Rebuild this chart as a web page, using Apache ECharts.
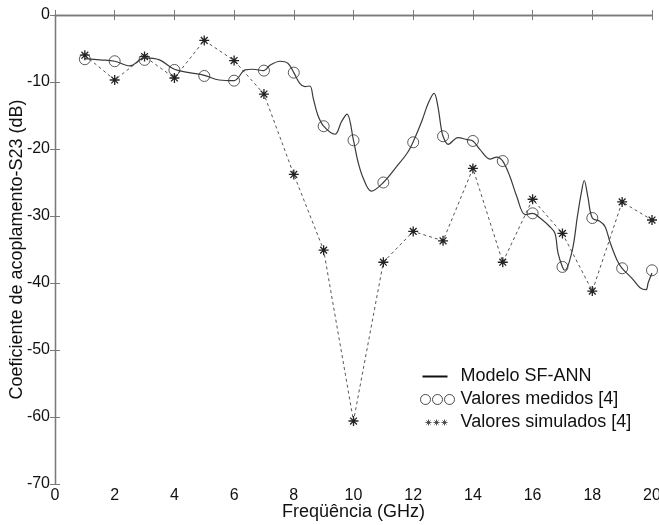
<!DOCTYPE html>
<html>
<head>
<meta charset="utf-8">
<script src="https://cdn.jsdelivr.net/npm/echarts@6/dist/echarts.min.js"></script>
<style>
  html, body { margin: 0; padding: 0; background: #fff; }
  #chart { width: 659px; height: 525px; }
</style>
</head>
<body>
<div id="chart"></div>
<script>
// measured / simulated points (GHz, dB)
const freqs = [1, 2, 3, 4, 5, 6, 7, 8, 9, 10, 11, 12, 13, 14, 15, 16, 17, 18, 19, 20];
const measured = [-6.6, -6.9, -6.7, -8.2, -9.1, -9.8, -8.3, -8.6, -16.6, -18.7,
  -25.0, -19.0, -18.1, -18.8, -21.8, -29.6, -37.6, -30.3, -37.8, -38.1];
const simulated = [-6.0, -9.7, -6.2, -9.4, -3.8, -6.8, -11.8, -23.8, -35.1, -60.6,
  -36.9, -32.3, -33.7, -22.9, -36.9, -27.5, -32.6, -41.2, -27.9, -30.6];

// SF-ANN model curve
const modelFreq = [1, 1.5, 2, 2.5, 3, 3.5, 4, 4.5, 5, 5.5, 6, 6.37, 6.63, 7, 7.2, 7.54, 7.8,
  8, 8.2, 8.37, 8.54, 8.65, 8.8, 9, 9.38, 9.6, 9.78, 10, 10.15, 10.33, 10.6, 11, 11.45,
  11.8, 12, 12.3, 12.5, 12.7, 12.83, 12.93, 13, 13.17, 13.5, 13.8, 14, 14.24, 14.57,
  14.8, 15, 15.24, 15.47, 15.75, 16, 16.25, 16.58, 16.75, 16.85, 17, 17.08, 17.33,
  17.5, 17.63, 17.73, 17.85, 18, 18.25, 18.43, 18.6, 18.83, 19, 19.33, 19.6, 19.8,
  19.87, 20];
const modelVal = [-6.5, -6.7, -6.9, -7.6, -6.4, -6.7, -8.1, -8.6, -9.0, -9.7, -9.8, -8.2,
  -8.1, -8.3, -7.5, -6.9, -7.2, -8.6, -10.2, -10.7, -10.6, -12.4, -14.9, -16.6, -17.8,
  -15.9, -14.8, -18.7, -21.9, -24.4, -26.3, -25.0, -22.6, -20.6, -18.9, -15.7, -13.2,
  -11.7, -13.7, -16.7, -18.1, -19.3, -18.3, -18.6, -18.8, -20.1, -21.5, -21.2, -21.8,
  -24.1, -27.1, -29.8, -29.6, -30.3, -31.6, -32.6, -35.5, -37.6, -38.1, -35.1, -30.1,
  -26.6, -24.7, -27.1, -30.3, -30.8, -31.6, -34.0, -36.6, -37.8, -39.3, -40.7, -41.0,
  -40.0, -38.5];

const seriesNames = ["Modelo SF-ANN", "Valores medidos [4]", "Valores simulados [4]"];

const star = "path://M5 0 L5 10 M0 5 L10 5 M1.6 1.6 L8.4 8.4 M1.6 8.4 L8.4 1.6";
const iconLine = "path://M0 0 M36 12 M3 6 L28 6";
const iconCircles = "path://M0 0 M36 12 M1 6 a5 5 0 1 0 10 0 a5 5 0 1 0 -10 0 Z " +
  "M13 6 a5 5 0 1 0 10 0 a5 5 0 1 0 -10 0 Z M25 6 a5 5 0 1 0 10 0 a5 5 0 1 0 -10 0 Z";
const iconStars = "path://M0 0 M36 12 " +
  "M9 3 L9 9 M6 6 L12 6 M7 4 L11 8 M7 8 L11 4 " +
  "M17 3 L17 9 M14 6 L20 6 M15 4 L19 8 M15 8 L19 4 " +
  "M25 3 L25 9 M22 6 L28 6 M23 4 L27 8 M23 8 L27 4";

const zip = (xs, ys) => xs.map((x, i) => [x, ys[i]]);

const font = "Liberation Sans, Arial, sans-serif";
const axisColor = "#7a7a7a";

var chartDom = document.getElementById("chart");
var myChart = echarts.init(chartDom);
var option;

const frameAxis = {
  min: 0,
  axisLine: { show: true, lineStyle: { color: axisColor, width: 1.3 } },
  axisTick: { show: true, inside: true, length: 5, lineStyle: { color: axisColor } },
  splitLine: { show: false },
};

option = {
  backgroundColor: "#fff",
  animation: false,
  grid: { left: 55, right: 7, top: 15, bottom: 41, containLabel: false, outerBoundsMode: "none" },
  legend: {
    orient: "vertical",
    left: 412,
    top: 361,
    itemWidth: 36,
    itemHeight: 12,
    itemGap: 2,
    selectedMode: false,
    textStyle: { fontFamily: font, fontSize: 18, color: "#111", lineHeight: 21 },
    data: [
      { name: seriesNames[0], icon: iconLine,
        itemStyle: { color: "none", borderColor: "#111", borderWidth: 2 } },
      { name: seriesNames[1], icon: iconCircles,
        itemStyle: { color: "none", borderColor: "#222", borderWidth: 1 } },
      { name: seriesNames[2], icon: iconStars,
        itemStyle: { color: "none", borderColor: "#444", borderWidth: 0.9 } },
    ],
  },
  xAxis: [
    Object.assign({}, frameAxis, {
      type: "value", max: 20, interval: 2, position: "bottom",
      name: "Freqüência (GHz)", nameLocation: "middle", nameGap: 19,
      nameMoveOverlap: false,
      nameTextStyle: { fontFamily: font, fontSize: 18, color: "#111" },
      axisLabel: { fontFamily: font, fontSize: 16, color: "#111", margin: 4 },
    }),
    Object.assign({}, frameAxis, {
      type: "value", max: 20, interval: 2, position: "top",
      axisLabel: { show: false },
    }),
  ],
  yAxis: [
    Object.assign({}, frameAxis, {
      type: "value", min: -70, max: 0, interval: 10, position: "left",
      name: "Coeficiente de acoplamento-S23 (dB)", nameLocation: "middle", nameGap: 29,
      nameMoveOverlap: false,
      nameTextStyle: { fontFamily: font, fontSize: 18, color: "#111" },
      axisLabel: { fontFamily: font, fontSize: 16, color: "#111", margin: 5 },
    }),
    Object.assign({}, frameAxis, {
      type: "value", min: -70, max: 0, interval: 10, position: "right",
      axisLabel: { show: false },
    }),
  ],
  series: [
    {
      name: seriesNames[0],
      type: "line",
      data: zip(modelFreq, modelVal),
      smooth: 0.35,
      showSymbol: false,
      lineStyle: { color: "#3a3a3a", width: 1.2 },
      itemStyle: { color: "#3a3a3a" },
      z: 3,
    },
    {
      name: seriesNames[1],
      type: "scatter",
      data: zip(freqs, measured),
      symbol: "circle",
      symbolSize: 11,
      itemStyle: { color: "rgba(0,0,0,0)", borderColor: "#333", borderWidth: 1 },
      z: 4,
    },
    {
      name: seriesNames[2],
      type: "line",
      data: zip(freqs, simulated),
      symbol: star,
      symbolSize: 10,
      showAllSymbol: true,
      lineStyle: { color: "#555", width: 1, type: [3, 3] },
      itemStyle: { color: "none", borderColor: "#222", borderWidth: 1.3 },
      z: 2,
    },
  ],
};

option && myChart.setOption(option);
</script>
</body>
</html>
